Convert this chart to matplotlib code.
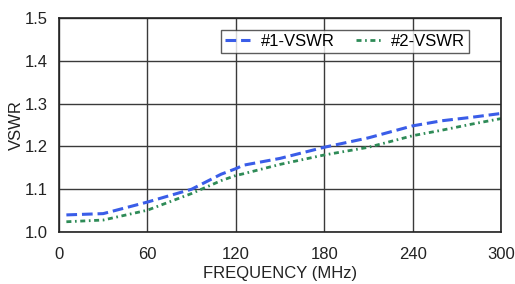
import matplotlib
matplotlib.use("Agg")
import matplotlib.pyplot as plt

plt.rcParams['font.family'] = ['Liberation Sans', 'DejaVu Sans']

freq = [5, 30, 60, 90, 110, 120, 125, 150, 180, 210, 240, 260, 280, 300]
vswr1 = [1.040, 1.043, 1.070, 1.100, 1.135, 1.148, 1.156, 1.172, 1.198, 1.220, 1.248, 1.260, 1.268, 1.277]
vswr2 = [1.024, 1.028, 1.051, 1.090, 1.120, 1.132, 1.136, 1.158, 1.180, 1.198, 1.225, 1.238, 1.252, 1.265]
labels = ["#1-VSWR", "#2-VSWR"]
xticks = [0, 60, 120, 180, 240, 300]
yticks = [1.0, 1.1, 1.2, 1.3, 1.4, 1.5]

fig = plt.figure(figsize=(5.15, 2.84), dpi=100)
ax = fig.add_axes([0.1146, 0.183, 0.8582, 0.7536])

ax.plot(freq, vswr1, color='#3a5de8', lw=2.2, dashes=(3.5, 1.6), label=labels[0])
ax.plot(freq, vswr2, color='#2e8b57', lw=2.0, dashes=(1.8, 1.3, 0.6, 1.3), label=labels[1])

ax.set_xlim(0, 300)
ax.set_ylim(1.0, 1.5)
ax.set_xticks(xticks)
ax.set_yticks(yticks)
ax.set_yticklabels([f"{v:.1f}" for v in yticks])
ax.tick_params(axis='x', length=0, labelsize=12, colors='#222222', pad=11)
ax.tick_params(axis='y', length=0, labelsize=12, colors='#222222', pad=8)
ax.grid(True, color='#3a3a3a', lw=1.0)
for s in ax.spines.values():
    s.set_color('#222222')
    s.set_linewidth(1.2)
ax.set_xlabel("FREQUENCY (MHz)", fontsize=12, color='#222222')
ax.xaxis.set_label_coords(0.5, -0.16)
ax.set_ylabel("VSWR", fontsize=12, color='#222222')
ax.yaxis.set_label_coords(-0.08, 0.5)

leg = ax.legend(loc='upper right', bbox_to_anchor=(0.928, 0.945), ncol=2, fontsize=12,
                frameon=True, fancybox=False, edgecolor='#333333', handlelength=1.5,
                columnspacing=1.3, borderpad=0.25, handletextpad=0.6,
                borderaxespad=0)
leg.get_frame().set_linewidth(1.0)

fig.savefig("out.png", dpi=100)
